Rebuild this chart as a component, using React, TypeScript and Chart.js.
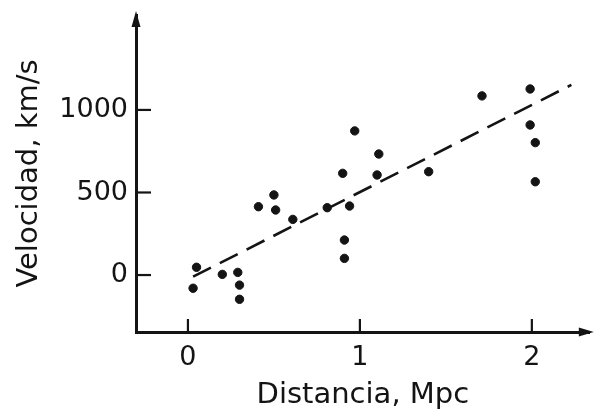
import React, { useEffect, useRef } from "react";
import { Chart, registerables } from "chart.js";

Chart.register(...registerables);

// Distance (Mpc) and velocity (km/s)
const distances = [0.03, 0.05, 0.2, 0.29, 0.3, 0.3, 0.41, 0.5, 0.51, 0.61, 0.81, 0.9, 0.94, 0.91, 0.91, 0.97, 1.11, 1.1, 1.4, 1.71, 1.99, 1.99, 2.02, 2.02];
const velocities = [-80, 47, 4, 16, -61, -147, 414, 485, 394, 337, 408, 616, 418, 212, 101, 873, 733, 606, 626, 1085, 1127, 909, 802, 565];

// Fitted (dashed) line end points
const fitX = [0.03, 2.23];
const fitY = [-10, 1152];

const xTickValues = [0, 1, 2];
const yTickValues = [0, 500, 1000];

const xTitle = "Distancia, Mpc";
const yTitle = "Velocidad, km/s";

const INK = "#141414";

const axisDecor = {
  id: "axisDecor",
  afterDraw(chart: any) {
    const ctx = chart.ctx;
    const area = chart.chartArea;
    const xs = chart.scales.x;
    const ys = chart.scales.y;
    ctx.save();
    ctx.strokeStyle = INK;
    ctx.fillStyle = INK;
    ctx.lineWidth = 2.2;
    // inward ticks on y
    for (const v of yTickValues) {
      const py = ys.getPixelForValue(v);
      ctx.beginPath();
      ctx.moveTo(area.left, py);
      ctx.lineTo(area.left + 15, py);
      ctx.stroke();
    }
    // inward ticks on x
    for (const v of xTickValues) {
      const px = xs.getPixelForValue(v);
      ctx.beginPath();
      ctx.moveTo(px, area.bottom);
      ctx.lineTo(px, area.bottom - 13);
      ctx.stroke();
    }
    // arrow on y
    ctx.beginPath();
    ctx.moveTo(area.left, area.top - 4);
    ctx.lineTo(area.left - 4.5, area.top + 12);
    ctx.lineTo(area.left + 4.5, area.top + 12);
    ctx.closePath();
    ctx.fill();
    // arrow on x
    ctx.beginPath();
    ctx.moveTo(area.right + 4, area.bottom);
    ctx.lineTo(area.right - 11, area.bottom - 4.5);
    ctx.lineTo(area.right - 11, area.bottom + 4.5);
    ctx.closePath();
    ctx.fill();
    ctx.restore();
  },
};

export default function App() {
  const ref = useRef<HTMLCanvasElement | null>(null);
  useEffect(() => {
    if (!ref.current) return;
    const chart = new Chart(ref.current, {
      type: "scatter",
      data: {
        datasets: [
          {
            type: "scatter",
            data: distances.map((d, i) => ({ x: d, y: velocities[i] })),
            backgroundColor: INK,
            borderColor: INK,
            pointRadius: 4.2,
            pointHoverRadius: 4.2,
          },
          {
            type: "line",
            data: fitX.map((d, i) => ({ x: d, y: fitY[i] })),
            borderColor: INK,
            borderWidth: 2.6,
            borderDash: [20, 10],
            pointRadius: 0,
            fill: false,
          } as any,
        ],
      },
      options: {
        animation: false,
        responsive: true,
        maintainAspectRatio: false,
        layout: { padding: { top: 15, right: 5, left: 0, bottom: 0 } },
        plugins: { legend: { display: false }, tooltip: { enabled: false } },
        scales: {
          x: {
            type: "linear",
            min: -0.302,
            max: 2.337,
            afterFit: (s: any) => {
              s.height = 81;
              s.paddingLeft = 0;
              s.paddingRight = 0;
            },
            afterBuildTicks: (s: any) => {
              s.ticks = xTickValues.map((v) => ({ value: v }));
            },
            grid: { display: false, drawTicks: false },
            border: { display: true, color: INK, width: 3 },
            ticks: {
              color: INK,
              padding: 10,
              font: { family: "DejaVu Sans", size: 27 },
              callback: (v: any) => String(v),
            },
            title: {
              display: true,
              text: xTitle,
              color: INK,
              padding: { top: 0, bottom: 0 },
              font: { family: "DejaVu Sans", size: 29 },
            },
          },
          y: {
            type: "linear",
            min: -345,
            max: 1575,
            afterFit: (s: any) => {
              s.width = 136;
              s.paddingTop = 0;
              s.paddingBottom = 0;
            },
            afterBuildTicks: (s: any) => {
              s.ticks = yTickValues.map((v) => ({ value: v }));
            },
            grid: { display: false, drawTicks: false },
            border: { display: true, color: INK, width: 3 },
            ticks: {
              color: INK,
              padding: 8,
              font: { family: "DejaVu Sans", size: 27 },
              callback: (v: any) => String(v),
            },
            title: {
              display: true,
              text: yTitle,
              color: INK,
              padding: { top: 12, bottom: 0 },
              font: { family: "DejaVu Sans", size: 29 },
            },
          },
        },
      },
      plugins: [axisDecor],
    });
    return () => chart.destroy();
  }, []);
  return (
    <div style={{ position: "fixed", left: 0, top: 0, width: 595, height: 413, background: "#fff" }}>
      <canvas ref={ref} />
    </div>
  );
}
